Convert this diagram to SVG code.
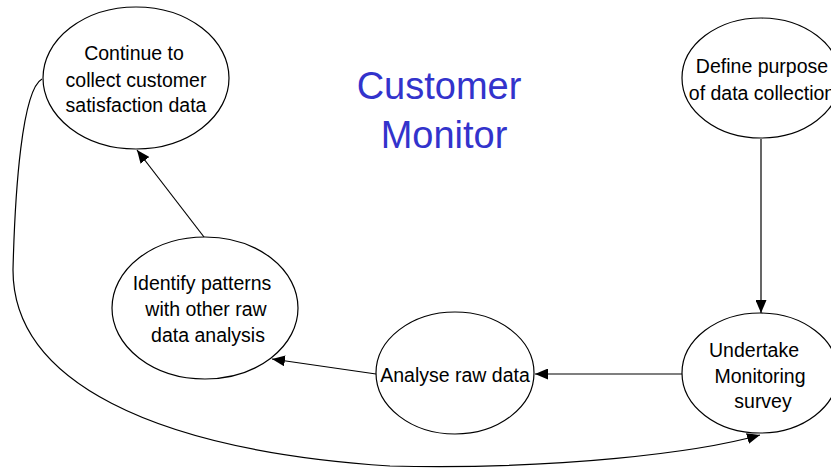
<svg xmlns="http://www.w3.org/2000/svg" width="831" height="470" viewBox="0 0 831 470">
<style>
.node ellipse{fill:#fff;stroke:#000;stroke-width:1.2}
.node text{font-family:"Liberation Sans",Arial,sans-serif;font-size:19.5px;fill:#000;text-anchor:middle}
.title{font-family:"Liberation Sans",Arial,sans-serif;fill:#3333cc;text-anchor:middle}
.conn path,.conn line{fill:none;stroke:#000;stroke-width:1.2}
</style>
<defs>
<marker id="ah" markerWidth="13" markerHeight="11" refX="13" refY="5.5" orient="auto" markerUnits="userSpaceOnUse">
<path d="M0,0 L13,5.5 L0,11 Z" fill="#000"/>
</marker>
</defs>
<rect width="831" height="470" fill="#fff"/>
<g class="conn">
<line x1="761" y1="139" x2="761" y2="313" marker-end="url(#ah)"/>
<line x1="682" y1="374" x2="535" y2="374" marker-end="url(#ah)"/>
<line x1="376" y1="374" x2="272" y2="359" marker-end="url(#ah)"/>
<line x1="204" y1="237" x2="137" y2="150" marker-end="url(#ah)"/>
<path d="M42,79 C22,90 15,190 13,270 C13,380 150,450 390,466 C560,470 700,452 760,435" marker-end="url(#ah)"/>
</g>
<g id="title">
<text class="title" x="439" y="99" font-size="38">Customer</text>
<text class="title" x="444" y="148" font-size="38">Monitor</text>
</g>
<g id="n-continue" class="node">
<ellipse cx="136" cy="78" rx="93" ry="71"/>
<text x="134" y="60">Continue to</text>
<text x="136" y="87">collect customer</text>
<text x="136" y="112">satisfaction data</text>
</g>
<g id="n-define" class="node">
<ellipse cx="761" cy="78" rx="79" ry="60"/>
<text x="762" y="73">Define purpose</text>
<text x="762" y="100">of data collection</text>
</g>
<g id="n-identify" class="node">
<ellipse cx="205" cy="308" rx="93" ry="71"/>
<text x="202" y="290">Identify patterns</text>
<text x="206" y="316">with other raw</text>
<text x="208" y="342">data analysis</text>
</g>
<g id="n-analyse" class="node">
<ellipse cx="455" cy="373" rx="79" ry="61"/>
<text x="455" y="382">Analyse raw data</text>
</g>
<g id="n-undertake" class="node">
<ellipse cx="760" cy="373" rx="78" ry="60"/>
<text x="754" y="357">Undertake</text>
<text x="760" y="383">Monitoring</text>
<text x="763" y="408">survey</text>
</g>
</svg>
